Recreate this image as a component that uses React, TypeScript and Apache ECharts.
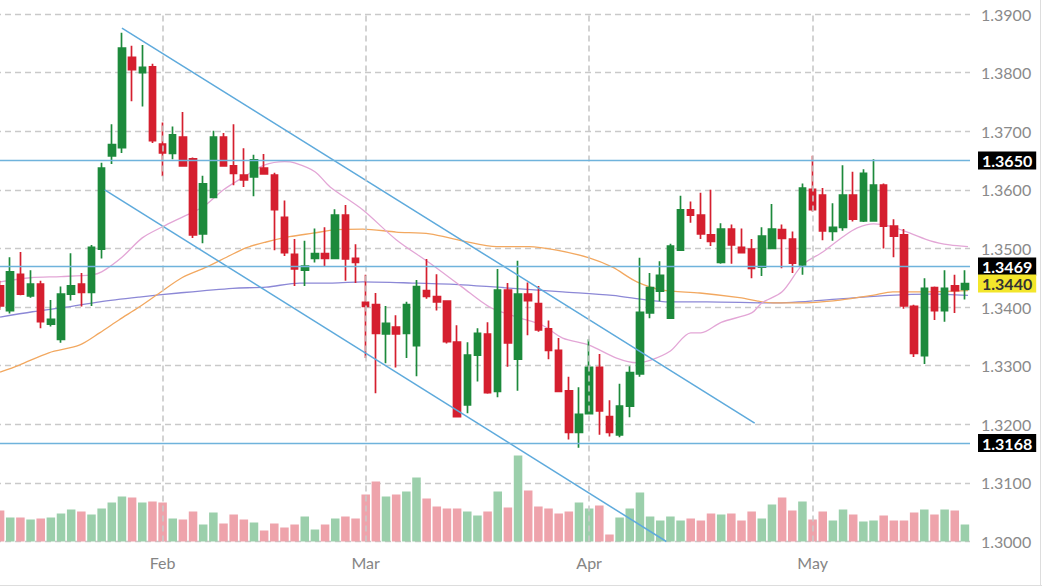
import React, { useEffect, useRef } from "react";
import * as echarts from "echarts";

const dates = [
  "2020-01-10", "2020-01-13", "2020-01-14", "2020-01-15", "2020-01-16", "2020-01-17",
  "2020-01-20", "2020-01-21", "2020-01-22", "2020-01-23", "2020-01-24",
  "2020-01-27", "2020-01-28", "2020-01-29", "2020-01-30", "2020-01-31",
  "2020-02-03", "2020-02-04", "2020-02-05", "2020-02-06", "2020-02-07",
  "2020-02-10", "2020-02-11", "2020-02-12", "2020-02-13", "2020-02-14",
  "2020-02-17", "2020-02-18", "2020-02-19", "2020-02-20", "2020-02-21",
  "2020-02-24", "2020-02-25", "2020-02-26", "2020-02-27", "2020-02-28",
  "2020-03-02", "2020-03-03", "2020-03-04", "2020-03-05", "2020-03-06",
  "2020-03-09", "2020-03-10", "2020-03-11", "2020-03-12", "2020-03-13",
  "2020-03-16", "2020-03-17", "2020-03-18", "2020-03-19", "2020-03-20",
  "2020-03-23", "2020-03-24", "2020-03-25", "2020-03-26", "2020-03-27",
  "2020-03-30", "2020-03-31",
  "2020-04-01", "2020-04-02", "2020-04-03",
  "2020-04-06", "2020-04-07", "2020-04-08", "2020-04-09", "2020-04-10",
  "2020-04-13", "2020-04-14", "2020-04-15", "2020-04-16", "2020-04-17",
  "2020-04-20", "2020-04-21", "2020-04-22", "2020-04-23", "2020-04-24",
  "2020-04-27", "2020-04-28", "2020-04-29", "2020-04-30",
  "2020-05-01", "2020-05-04", "2020-05-05", "2020-05-06", "2020-05-07", "2020-05-08",
  "2020-05-11", "2020-05-12", "2020-05-13", "2020-05-14", "2020-05-15",
  "2020-05-18", "2020-05-19", "2020-05-20", "2020-05-21", "2020-05-22",
];

const opens = [
  1.3436, 1.3394, 1.3456, 1.3419, 1.3439, 1.3371, 1.3345, 1.3422, 1.3439, 1.3425,
  1.3499, 1.3658, 1.3672, 1.3826, 1.3800, 1.3810, 1.3678, 1.3662, 1.3690, 1.3653,
  1.3525, 1.3587, 1.3690, 1.3641, 1.3625, 1.3622, 1.3637, 1.3625, 1.3553, 1.3490,
  1.3463, 1.3483, 1.3491, 1.3483, 1.3557, 1.3483, 1.3408, 1.3404, 1.3354, 1.3366,
  1.3355, 1.3334, 1.3428, 1.3418, 1.3410, 1.3340, 1.3233, 1.3318, 1.3354, 1.3256,
  1.3429, 1.3311, 1.3422, 1.3406, 1.3363, 1.3326, 1.3257, 1.3186, 1.3218, 1.3297,
  1.3213, 1.3182, 1.3231, 1.3286, 1.3390, 1.3427, 1.3381, 1.3497, 1.3566, 1.3557,
  1.3523, 1.3476, 1.3533, 1.3502, 1.3499, 1.3468, 1.3500, 1.3532, 1.3516, 1.3472,
  1.3601, 1.3591, 1.3529, 1.3536, 1.3591, 1.3547, 1.3547, 1.3608, 1.3538, 1.3523,
  1.3401, 1.3317, 1.3433, 1.3394, 1.3436, 1.3430,
];

const closes = [
  1.3402, 1.3460, 1.3422, 1.3439, 1.3375, 1.3379, 1.3422, 1.3436, 1.3425, 1.3502,
  1.3637, 1.3677, 1.3842, 1.3805, 1.3809, 1.3684, 1.3663, 1.3694, 1.3641, 1.3523,
  1.3610, 1.3690, 1.3641, 1.3628, 1.3617, 1.3651, 1.3627, 1.3566, 1.3493, 1.3465,
  1.3470, 1.3491, 1.3483, 1.3557, 1.3482, 1.3476, 1.3401, 1.3355, 1.3372, 1.3354,
  1.3404, 1.3435, 1.3418, 1.3409, 1.3341, 1.3213, 1.3318, 1.3355, 1.3254, 1.3429,
  1.3339, 1.3422, 1.3411, 1.3361, 1.3326, 1.3256, 1.3186, 1.3217, 1.3297, 1.3223,
  1.3186, 1.3231, 1.3288, 1.3391, 1.3433, 1.3454, 1.3504, 1.3566, 1.3557, 1.3525,
  1.3512, 1.3533, 1.3506, 1.3493, 1.3466, 1.3521, 1.3533, 1.3517, 1.3475, 1.3603,
  1.3566, 1.3530, 1.3536, 1.3591, 1.3550, 1.3628, 1.3608, 1.3538, 1.3521, 1.3402,
  1.3321, 1.3432, 1.3394, 1.3432, 1.3428, 1.3440,
];

const lows = [
  1.3395, 1.3389, 1.3420, 1.3416, 1.3364, 1.3367, 1.3339, 1.3411, 1.3401, 1.3402,
  1.3483, 1.3644, 1.3663, 1.3751, 1.3742, 1.3680, 1.3623, 1.3652, 1.3641, 1.3518,
  1.3509, 1.3587, 1.3640, 1.3608, 1.3605, 1.3589, 1.3627, 1.3497, 1.3487, 1.3436,
  1.3436, 1.3476, 1.3470, 1.3482, 1.3445, 1.3441, 1.3313, 1.3253, 1.3304, 1.3297,
  1.3313, 1.3282, 1.3414, 1.3394, 1.3338, 1.3212, 1.3219, 1.3273, 1.3252, 1.3246,
  1.3298, 1.3257, 1.3352, 1.3358, 1.3311, 1.3255, 1.3174, 1.3160, 1.3217, 1.3182,
  1.3179, 1.3178, 1.3212, 1.3281, 1.3381, 1.3410, 1.3380, 1.3496, 1.3544, 1.3516,
  1.3504, 1.3474, 1.3474, 1.3492, 1.3449, 1.3453, 1.3500, 1.3466, 1.3458, 1.3455,
  1.3563, 1.3514, 1.3513, 1.3530, 1.3546, 1.3545, 1.3546, 1.3500, 1.3485, 1.3397,
  1.3315, 1.3303, 1.3378, 1.3375, 1.3390, 1.3413,
];

const highs = [
  1.3445, 1.3485, 1.3494, 1.3463, 1.3445, 1.3412, 1.3435, 1.3492, 1.3458, 1.3506,
  1.3646, 1.3712, 1.3868, 1.3846, 1.3847, 1.3815, 1.3715, 1.3708, 1.3733, 1.3655,
  1.3624, 1.3701, 1.3697, 1.3712, 1.3671, 1.3660, 1.3661, 1.3629, 1.3582, 1.3516,
  1.3513, 1.3534, 1.3536, 1.3567, 1.3574, 1.3507, 1.3455, 1.3424, 1.3402, 1.3386,
  1.3409, 1.3446, 1.3482, 1.3456, 1.3411, 1.3369, 1.3340, 1.3364, 1.3374, 1.3465,
  1.3441, 1.3479, 1.3442, 1.3436, 1.3377, 1.3347, 1.3281, 1.3263, 1.3345, 1.3320,
  1.3241, 1.3269, 1.3299, 1.3484, 1.3458, 1.3478, 1.3508, 1.3590, 1.3580, 1.3595,
  1.3600, 1.3543, 1.3541, 1.3534, 1.3516, 1.3536, 1.3576, 1.3541, 1.3529, 1.3611,
  1.3658, 1.3603, 1.3577, 1.3642, 1.3631, 1.3635, 1.3652, 1.3611, 1.3550, 1.3533,
  1.3404, 1.3449, 1.3435, 1.3463, 1.3455, 1.3463,
];

const volumes = [
  31, 24, 24, 22, 23, 24, 28, 32, 30, 27,
  33, 39, 45, 44, 39, 40, 39, 23, 22, 30,
  17, 29, 18, 27, 22, 19, 11, 18, 14, 17,
  25, 12, 17, 23, 25, 23, 47, 60, 45, 47,
  50, 64, 43, 35, 33, 33, 30, 26, 30, 50,
  34, 86, 51, 35, 33, 28, 30, 39, 33, 36,
  7, 24, 33, 49, 25, 21, 25, 21, 23, 21,
  28, 27, 28, 21, 30, 23, 37, 44, 31, 40,
  22, 30, 21, 32, 27, 20, 21, 26, 21, 21,
  29, 32, 27, 32, 31, 17,
];

// moving averages, read as [candle position, price]
const maShort = [
  [0, 1.3443], [3, 1.345], [6, 1.3452], [9, 1.3455], [10, 1.346], [12, 1.3485],
  [14, 1.3518], [16, 1.3537], [18, 1.3554], [20, 1.3571], [22, 1.36], [24, 1.3622],
  [26, 1.3642], [28, 1.3648], [29, 1.3646], [31, 1.3631], [32.5, 1.3605], [35.7, 1.3566],
  [39, 1.3515], [42.3, 1.3475], [45.5, 1.3434], [48.2, 1.34], [50.9, 1.3383],
  [53.4, 1.3369], [55.4, 1.3347], [58, 1.3335], [60.7, 1.3313], [62.7, 1.3305],
  [64, 1.3309], [66, 1.3325], [68, 1.3356], [69, 1.3356], [71, 1.3374], [74, 1.339],
  [75, 1.3407], [77, 1.3426], [79, 1.3472], [81, 1.3494], [83, 1.352], [84.4, 1.3535],
  [86, 1.3542], [87.6, 1.3538], [89.6, 1.3526], [91.6, 1.3513], [93.5, 1.3506], [95.3, 1.3503],
];

const maMid = [
  [0, 1.3289], [1.9, 1.3301], [4.8, 1.3322], [7.8, 1.3335], [9.8, 1.3356], [11.7, 1.3378],
  [13.7, 1.34], [15.7, 1.3424], [17.9, 1.345], [20.3, 1.3468], [22.3, 1.3485],
  [24.2, 1.3501], [26.2, 1.3511], [28.5, 1.352], [30.8, 1.3526], [33.1, 1.3532],
  [35.7, 1.3533], [39, 1.3528], [42.3, 1.3525], [45.5, 1.3513], [48.9, 1.3503],
  [52.1, 1.3503], [54.8, 1.3497], [58, 1.3484], [60.3, 1.3468], [62.7, 1.3443],
  [65.2, 1.3429], [68.9, 1.3424], [72.8, 1.3416], [76.1, 1.3407], [78.7, 1.3407],
  [82.7, 1.3412], [85.9, 1.342], [87.9, 1.3426], [90.9, 1.3426], [95.3, 1.3428],
];

const maLong = [
  [0, 1.3383], [3.2, 1.3392], [6.5, 1.34], [9.8, 1.3409], [13.7, 1.3417], [17.6, 1.3424],
  [22.9, 1.3432], [26.2, 1.3434], [29.5, 1.3441], [32.7, 1.3441], [35.7, 1.3443],
  [40.6, 1.3441], [45.5, 1.3438], [50.5, 1.3432], [55.4, 1.3426], [60.3, 1.342],
  [63.7, 1.3412], [65.9, 1.3409], [69.6, 1.3409], [76.1, 1.3407], [82.7, 1.3414],
  [87.6, 1.342], [91.6, 1.3422], [95.3, 1.342],
];

// trend channel endpoints [candle position, price]
const upperTrend = [[12, 1.3876], [74.3, 1.3202]];
const lowerTrend = [[10.3, 1.36], [65.6, 1.3]];

const levels = [1.365, 1.3469, 1.3168];
const lastPrice = 1.344;

const priceTicks = { min: 1.3, max: 1.39, step: 0.01 };
const monthNames: Record<string, string> = {
  "01": "Jan", "02": "Feb", "03": "Mar", "04": "Apr", "05": "May",
};

const UP = "#1d8a3c";
const DOWN = "#d51f2f";
const UP_VOL = "#9bcfab";
const DOWN_VOL = "#eea3ab";
const GRID = "#c9c9c9";

// the chart's canvas starts 5px left of the page so the first candle is cut like the original
const SHIFT = 5;
const W = 1042 + SHIFT;
const H = 586;

function isMonthStart(i: number) {
  return i > 0 && dates[i].slice(5, 7) !== dates[i - 1].slice(5, 7);
}

export default function App() {
  const ref = useRef<HTMLDivElement>(null);

  useEffect(() => {
    if (!ref.current) return;
    const chart = echarts.init(ref.current, null, { renderer: "svg" });

    const candleData = dates.map((_, i) => [opens[i], closes[i], lows[i], highs[i]]);
    const volData = volumes.map((v, i) => ({
      value: v,
      itemStyle: { color: closes[i] >= opens[i] ? UP_VOL : DOWN_VOL },
    }));

    const monthLines = dates
      .filter((_, i) => isMonthStart(i))
      .map((d) => ({
        xAxis: d,
        label: { show: false },
        lineStyle: { color: GRID, type: [6, 4], width: 1.6 },
      }));

    const tagLabel = (bg: string, fg: string) => ({
      show: true,
      position: "end",
      distance: 8,
      formatter: (p: any) => Number(p.value).toFixed(4),
      color: fg,
      backgroundColor: bg,
      fontFamily: "Lato",
      fontWeight: "bold",
      fontSize: 16,
      lineHeight: 17,
      padding: [1, 4, 0, 4],
    });

    const levelLines = levels.map((v) => ({
      yAxis: v,
      lineStyle: { color: "#6fb3dc", type: "solid", width: 1.3 },
      label: tagLabel("#000000", "#ffffff"),
    }));

    const lastLine = {
      yAxis: lastPrice,
      lineStyle: { color: "rgba(255,255,255,0)", type: "solid", width: 1 },
      label: tagLabel("#f3e62b", "#333333"),
    };

    const option: any = {
      animation: false,
      backgroundColor: "#ffffff",
      textStyle: { fontFamily: "Lato" },
      grid: { left: 0, right: 72, top: 14, bottom: 44.5, containLabel: false },
      xAxis: [
        {
          type: "category",
          data: dates,
          boundaryGap: true,
          axisLine: { show: false },
          axisTick: { show: false },
          splitLine: { show: false },
          axisLabel: {
            interval: (i: number) => isMonthStart(i),
            formatter: (v: string) => monthNames[v.slice(5, 7)],
            color: "#858585",
            fontSize: 16,
            fontFamily: "Lato",
            margin: 13,
          },
        },
        {
          type: "value",
          min: -0.5,
          max: dates.length - 0.5,
          show: false,
        },
      ],
      yAxis: [
        {
          type: "value",
          position: "right",
          min: priceTicks.min,
          max: priceTicks.max,
          interval: priceTicks.step,
          axisLine: { show: false },
          axisTick: { show: false },
          axisLabel: {
            formatter: (v: number) => v.toFixed(4),
            color: "#8a8a8a",
            fontSize: 16,
            fontFamily: "Lato",
            margin: 11,
            showMinLabel: true,
            showMaxLabel: true,
          },
          splitLine: { show: true, lineStyle: { color: GRID, type: [6, 4], width: 1.4 } },
        },
        { type: "value", min: 0, max: 527.5, show: false },
      ],
      series: [
        {
          name: "Volume",
          type: "bar",
          xAxisIndex: 0,
          yAxisIndex: 1,
          data: volData,
          barWidth: "84%",
          z: 1,
          silent: true,
        },
        {
          name: "MA long",
          type: "line",
          xAxisIndex: 1,
          yAxisIndex: 0,
          data: maLong,
          smooth: 0.3,
          showSymbol: false,
          lineStyle: { color: "#8c88d6", width: 1.3 },
          z: 2,
          silent: true,
        },
        {
          name: "MA mid",
          type: "line",
          xAxisIndex: 1,
          yAxisIndex: 0,
          data: maMid,
          smooth: 0.3,
          showSymbol: false,
          lineStyle: { color: "#f2a860", width: 1.3 },
          z: 2,
          silent: true,
        },
        {
          name: "MA short",
          type: "line",
          xAxisIndex: 1,
          yAxisIndex: 0,
          data: maShort,
          smooth: 0.3,
          showSymbol: false,
          lineStyle: { color: "#e3a6d6", width: 1.3 },
          z: 2,
          silent: true,
        },
        {
          name: "Price",
          type: "candlestick",
          xAxisIndex: 0,
          yAxisIndex: 0,
          data: candleData,
          barWidth: 7,
          itemStyle: {
            color: UP,
            color0: DOWN,
            borderColor: UP,
            borderColor0: DOWN,
            borderWidth: 1.7,
          },
          z: 3,
          markLine: {
            silent: true,
            precision: 4,
            symbol: ["none", "none"],
            animation: false,
            data: [...monthLines, ...levelLines, lastLine],
          },
        },
        {
          name: "Upper trend",
          type: "line",
          xAxisIndex: 1,
          yAxisIndex: 0,
          data: upperTrend,
          showSymbol: false,
          lineStyle: { color: "#5eaadc", width: 1.5 },
          z: 4,
          silent: true,
        },
        {
          name: "Lower trend",
          type: "line",
          xAxisIndex: 1,
          yAxisIndex: 0,
          data: lowerTrend,
          showSymbol: false,
          lineStyle: { color: "#5eaadc", width: 1.5 },
          z: 4,
          silent: true,
        },
      ],
      graphic: [
        {
          type: "line",
          shape: { x1: W - 1.5, y1: 0, x2: W - 1.5, y2: H },
          style: { stroke: "#dddddd", lineWidth: 1 },
          silent: true,
        },
        {
          type: "line",
          shape: { x1: 0, y1: H - 0.5, x2: W, y2: H - 0.5 },
          style: { stroke: "#dddddd", lineWidth: 1 },
          silent: true,
        },
      ],
    };

    chart.setOption(option);
    return () => chart.dispose();
  }, []);

  return (
    <div
      ref={ref}
      style={{ position: "fixed", left: -SHIFT, top: 0, width: W, height: H, background: "#fff" }}
    />
  );
}
